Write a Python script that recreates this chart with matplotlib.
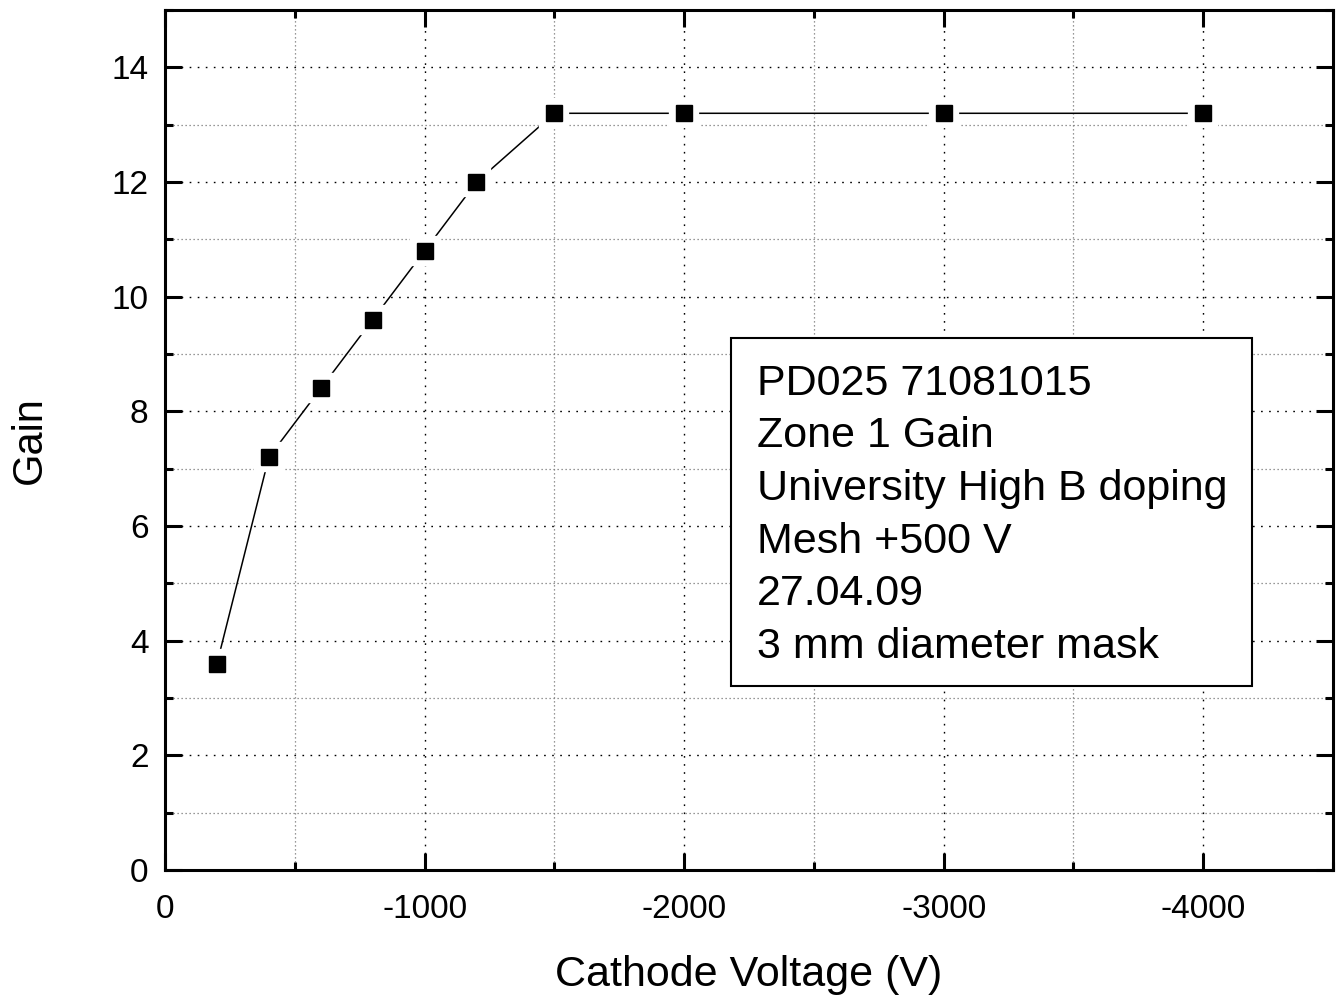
import matplotlib
matplotlib.use("Agg")
import matplotlib.pyplot as plt
from matplotlib.ticker import MultipleLocator

plt.rcParams['font.family'] = ['Liberation Sans', 'DejaVu Sans']
plt.rcParams['axes.unicode_minus'] = False

# Gain vs cathode voltage
voltage = [-200, -400, -600, -800, -1000, -1200, -1500, -2000, -3000, -4000]
gain = [3.6, 7.2, 8.4, 9.6, 10.8, 12.0, 13.2, 13.2, 13.2, 13.2]

info_lines = [
    "PD025 71081015",
    "Zone 1 Gain",
    "University High B doping",
    "Mesh +500 V",
    "27.04.09",
    "3 mm diameter mask",
]

fig = plt.figure(figsize=(13.44, 10.01), dpi=100)
ax = fig.add_axes([0.1228, 0.1309, 0.869, 0.859])

ax.plot(voltage, gain, color='black', lw=1.1, zorder=3)
ax.plot(voltage, gain, ls='none', marker='s', markersize=16.5,
        markerfacecolor='black', markeredgecolor='white',
        markeredgewidth=6, zorder=4)
ax.plot(voltage, gain, ls='none', marker='s', markersize=12.2,
        color='black', zorder=5)

ax.set_xlim(0, -4500)
ax.set_ylim(0, 15)
ax.xaxis.set_major_locator(MultipleLocator(1000))
ax.xaxis.set_minor_locator(MultipleLocator(500))
ax.yaxis.set_major_locator(MultipleLocator(2))
ax.yaxis.set_minor_locator(MultipleLocator(1))

ax.set_axisbelow(True)
ax.grid(which='major', color='black', lw=1.0, ls=(0, (1.2, 4.6)))
ax.grid(which='minor', color='#777777', lw=0.9, ls=(0, (1.0, 2.2)))

ax.tick_params(which='both', direction='in', top=True, right=True,
               width=2.2, labelsize=24)
ax.tick_params(axis='x', pad=17)
ax.tick_params(axis='y', pad=12)
ax.tick_params(which='major', length=12)
ax.tick_params(which='minor', length=5.5)
for sp in ax.spines.values():
    sp.set_linewidth(2.2)

ax.set_xlabel("Cathode Voltage (V)", fontsize=31, labelpad=22)
ax.set_ylabel("Gain", fontsize=30, labelpad=44)

# info box
box = plt.Rectangle((0.485, 0.214), 0.446, 0.405, transform=ax.transAxes,
                    facecolor='white', edgecolor='black', lw=1.5, zorder=6)
ax.add_patch(box)
for i, line in enumerate(info_lines):
    ax.text(0.507, 0.5526 - i * 0.0612, line, transform=ax.transAxes,
            fontsize=31, ha='left', va='baseline', zorder=7)

fig.savefig("out.png", dpi=100)
